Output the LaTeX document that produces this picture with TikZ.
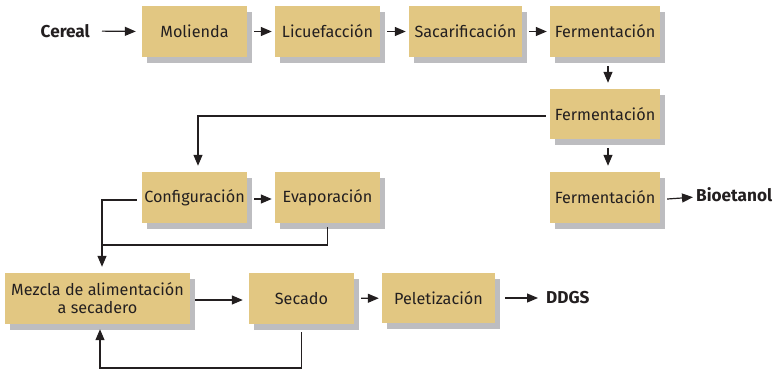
\documentclass[tikz,border=0pt]{standalone}
\usepackage{fontspec}
\setmainfont{Fira Sans}
\usetikzlibrary{arrows.meta,shadows}
\definecolor{boxfill}{HTML}{E2C782}
\definecolor{shadowgray}{HTML}{BDBDC0}
\definecolor{ink}{HTML}{231F20}
\begin{document}
\begin{tikzpicture}[x=1pt,y=-1pt,
  procbox/.style={fill=boxfill, draw=none, inner sep=0pt, minimum height=51pt,
    text=ink, font=\fontsize{16.2}{18}\selectfont, align=center,
    general shadow={fill=shadowgray, shadow xshift=5pt, shadow yshift=-6pt}},
  endlabel/.style={inner sep=0pt, text=ink, font=\fontsize{17.2}{18}\selectfont\bfseries},
  flow/.style={draw=ink, line width=1.2pt, -{Triangle[length=11pt,width=9pt]}},
  plain/.style={draw=ink, line width=1.2pt}]
\useasboundingbox (0,0) rectangle (774,370);
% boxes
\node[procbox, minimum width=105pt] (mol) at (194.5,31.5) {Molienda};
\node[procbox, minimum width=105pt] (lic) at (327.5,31.5) {Licuefacción};
\node[procbox, minimum width=113pt] (sac) at (465.5,31.5) {Sacarificación};
\node[procbox, minimum width=110pt] (f1) at (605,31.5) {Fermentación};
\node[procbox, minimum width=110pt, minimum height=50pt] (f2) at (605,114) {Fermentación};
\node[procbox, minimum width=110pt] (f3) at (605,197.5) {Fermentación};
\node[procbox, minimum width=105pt] (cfg) at (194.5,197.5) {Configuración};
\node[procbox, minimum width=105pt] (eva) at (327.5,197.5) {Evaporación};
\node[procbox, minimum width=185pt] (mez) at (97.5,298.5) {Mezcla de alimentación\\a secadero};
\node[procbox, minimum width=105pt] (sec) at (301.5,298.5) {Secado};
\node[procbox, minimum width=113pt, minimum height=50pt] (pel) at (438.5,298) {Peletización};
% labels
\node[endlabel, anchor=east] (cer) at (90,31) {Cereal};
\node[endlabel, anchor=west] (bio) at (696,195) {Bioetanol};
\node[endlabel, anchor=west] (ddgs) at (546,298) {DDGS};
\coordinate (j) at (102,245);
% connectors
\draw[flow, shorten <=12pt, shorten >=6pt] (cer.east) -- (mol.west);
\draw[flow, shorten <=7pt, shorten >=3pt] (mol) -- (lic);
\draw[flow, shorten <=7pt, shorten >=3pt] (lic) -- (sac);
\draw[flow, shorten <=7pt, shorten >=3pt] (sac) -- (f1);
\draw[flow, shorten <=9pt, shorten >=6pt] ([xshift=3pt]f1.south) -- ([xshift=3pt]f2.north);
\draw[flow, shorten <=9pt, shorten >=6pt] ([xshift=3pt]f2.south) -- ([xshift=3pt]f3.north);
\draw[flow, shorten <=7pt, shorten >=3pt] ([yshift=-2pt]f3.east) -- ([yshift=-2pt]bio.west);
\draw[flow, shorten <=4pt, shorten >=6pt] ([yshift=-2pt]f2.west) -| ([xshift=3.5pt]cfg.north);
\draw[flow, shorten <=7pt, shorten >=3pt] ([yshift=-1.5pt]cfg.east) -- ([yshift=-1.5pt]eva.west);
\draw[flow, shorten <=5pt, shorten >=6pt] ([yshift=-2.5pt]cfg.west) -| ([xshift=4.5pt]mez.north);
\draw[plain, shorten <=4pt] (eva.south) |- (j);
\draw[flow, shorten <=5pt, shorten >=6pt] ([yshift=-1.5pt]mez.east) -- ([yshift=-1.5pt]sec.west);
\draw[flow, shorten <=7pt, shorten >=3pt] (sec) -- (pel);
\draw[flow, shorten <=10pt, shorten >=8pt] (pel) -- (ddgs.west);
\draw[flow, shorten <=8pt, shorten >=5pt] (sec.south) |- (100,368) -| ([xshift=2.5pt]mez.south);
\end{tikzpicture}
\end{document}
